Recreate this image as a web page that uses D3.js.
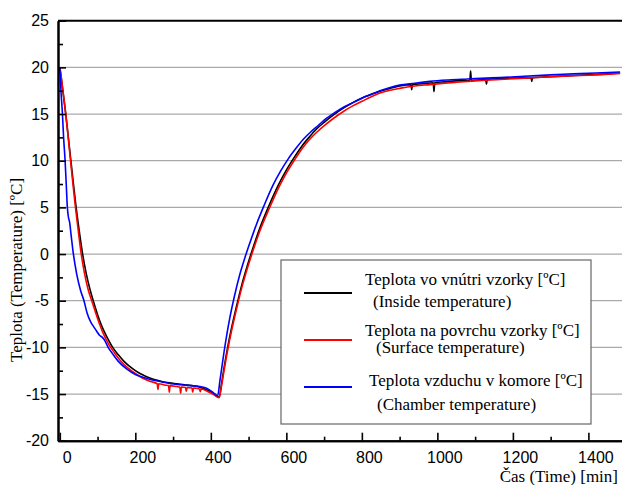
<!DOCTYPE html>
<html>
  <head>
    <meta charset="utf-8">
    <title>Teplota vzorky</title>
    <script type="text/javascript" src="https://d3js.org/d3.v7.min.js"></script>
    <style>
      body { margin: 0; background: #fff; }
    </style>
  </head>

  <body>
    <script>

    // inside temperature (black)
    var insideTime = [0, 4, 8, 12, 16, 22, 29, 35, 42, 50, 60, 70, 80, 90, 100, 112, 125, 140, 155, 170, 190, 210, 230, 250, 270, 290, 310, 330, 350, 365, 380, 395, 410, 422,
                      428, 435, 445, 455, 468, 482, 497, 512, 530, 552, 580, 600, 620, 640, 660, 680, 700, 725, 750, 775, 800, 825, 848, 875, 900, 930, 932, 934, 960, 989, 991, 993,
                      1020, 1050, 1086, 1088, 1090, 1128, 1130, 1132, 1166, 1200, 1248, 1250, 1252, 1300, 1350, 1400, 1450, 1484];
    var insideTemp = [20, 18.8, 17.5, 16.2, 14.9, 12.7, 10.1, 7.9, 5.4, 2.9, 0.1, -2.1, -3.8, -5.2, -6.5, -7.8, -8.9, -10.0, -10.8, -11.5, -12.2, -12.75, -13.15, -13.45, -13.65, -13.8, -13.9, -14.0, -14.1, -14.2, -14.4, -14.65, -15.0, -15.35,
                      -14.0, -12.2, -9.9, -7.9, -5.6, -3.3, -1.2, 0.7, 2.8, 5.0, 7.5, 9.0, 10.3, 11.5, 12.5, 13.4, 14.1, 14.9, 15.6, 16.2, 16.7, 17.1, 17.45, 17.75, 18.0, 18.15, 17.6, 18.15, 18.25, 18.35, 17.4, 18.35,
                      18.45, 18.55, 18.6, 19.6, 18.6, 18.7, 18.2, 18.7, 18.8, 18.85, 18.9, 18.5, 18.9, 19.0, 19.1, 19.2, 19.3, 19.4];

    // surface temperature (red)
    var surfaceTime = [0, 4, 8, 12, 16, 22, 28, 34, 40, 48, 56, 65, 75, 87, 100, 115, 130, 145, 160, 180, 200, 220, 240, 258, 260, 262, 280, 288, 290, 292, 310, 318, 320, 322, 333, 335, 337, 350, 352, 354, 370, 372, 374, 390, 405, 422,
                       428, 435, 445, 455, 468, 482, 497, 512, 530, 555, 582, 602, 622, 642, 662, 682, 702, 727, 752, 777, 802, 825, 848, 875, 900, 940, 980, 1020, 1050, 1100, 1166, 1230, 1300, 1360, 1420, 1484];
    var surfaceTemp = [20, 18.9, 17.6, 16.3, 14.9, 12.6, 10.2, 7.8, 5.5, 2.8, 0.2, -2.0, -3.8, -5.3, -6.9, -8.5, -9.7, -10.6, -11.4, -12.2, -12.8, -13.3, -13.65, -13.9, -14.5, -13.9, -14.05, -14.1, -14.8, -14.1, -14.2, -14.25, -14.9, -14.25, -14.3, -14.7, -14.3, -14.35, -14.8, -14.35, -14.45, -14.75, -14.45, -14.7, -15.0, -15.4,
                       -14.2, -12.5, -10.2, -8.2, -5.9, -3.6, -1.5, 0.4, 2.5, 4.9, 7.3, 8.8, 10.1, 11.3, 12.3, 13.1, 13.8, 14.6, 15.3, 15.9, 16.4, 16.85, 17.25, 17.55, 17.75, 18.0, 18.15, 18.3, 18.4, 18.55, 18.7, 18.85, 19.0, 19.1, 19.2, 19.35];

    // chamber air temperature (blue)
    var chamberTime = [0, 3, 7, 10, 14, 17, 20, 23, 26, 30, 36, 45, 55, 64, 72, 82, 90, 98, 105, 112, 118, 128, 140, 155, 177, 200, 220, 245, 270, 295, 320, 345, 370, 390, 405, 418,
                       424, 431, 440, 450, 462, 476, 491, 506, 522, 540, 565, 585, 605, 625, 645, 665, 685, 705, 730, 755, 780, 805, 830, 848, 875, 900, 940, 980, 1030, 1080, 1130, 1166, 1230, 1300, 1360, 1420, 1484];
    var chamberTemp = [20, 17.5, 15, 12.5, 10, 7.5, 5, 3.9, 3.4, 2.0, 0, -2.2, -3.9, -5, -6.3, -7.3, -7.8, -8.3, -8.7, -8.9, -9.2, -10, -10.7, -11.5, -12.3, -12.9, -13.2, -13.5, -13.7, -13.9, -14.0, -14.1, -14.2, -14.4, -14.8, -15.2,
                       -13.6, -11.6, -9.2, -6.9, -4.6, -2.3, -0.3, 1.5, 3.3, 5.1, 7.4, 8.9, 10.2, 11.3, 12.3, 13.1, 13.8, 14.5, 15.2, 15.8, 16.3, 16.8, 17.2, 17.5, 17.85, 18.1, 18.3, 18.5, 18.65, 18.75, 18.85, 18.9, 19.05, 19.2, 19.3, 19.4, 19.5];

    var xTicks = [0, 200, 400, 600, 800, 1000, 1200, 1400];
    var xMinor = [100, 300, 500, 700, 900, 1100, 1300];
    var yTicks = [-20, -15, -10, -5, 0, 5, 10, 15, 20, 25];
    var yMinor = [-17.5, -12.5, -7.5, -2.5, 2.5, 7.5, 12.5, 17.5, 22.5];
    var gridValues = [-15, -10, -5, 0, 5, 10, 15, 20];

    var legendMain = ["Teplota vo vnútri vzorky [ºC]", "Teplota na povrchu vzorky [ºC]", "Teplota vzduchu v komore [ºC]"];
    var legendSub = ["(Inside temperature)", "(Surface temperature)", "(Chamber temperature)"];
    var colors = ["#000000", "#ff0000", "#0000ff"];

    var width = 622, height = 485;
    var plotLeft = 58, plotRight = 622, plotTop = 20.7, plotBottom = 440.7;

    var x = d3.scaleLinear().domain([-4.8, 1489]).range([plotLeft, plotRight]);
    var y = d3.scaleLinear().domain([-20, 25]).range([plotBottom, plotTop]);

    var svg = d3.select('body')
                .append('svg')
                .attr("width", width)
                .attr("height", height);

    // horizontal grid
    svg.append("g")
       .selectAll("line")
       .data(gridValues)
       .enter()
         .append("line")
         .attr("x1", plotLeft).attr("x2", plotRight)
         .attr("y1", function(d) { return y(d); })
         .attr("y2", function(d) { return y(d); })
         .attr("stroke", "#aaaaaa")
         .attr("stroke-width", 1.3);

    // top border
    svg.append("line")
       .attr("x1", plotLeft).attr("x2", plotRight)
       .attr("y1", plotTop).attr("y2", plotTop)
       .attr("stroke", "#000").attr("stroke-width", 2);

    // series
    var series = [
      { t: insideTime, v: insideTemp },
      { t: surfaceTime, v: surfaceTemp },
      { t: chamberTime, v: chamberTemp }
    ];

    var line = d3.line()
                 .x(function(d) { return x(d[0]); })
                 .y(function(d) { return y(d[1]); })
                 .curve(d3.curveMonotoneX);

    series.forEach(function(s, i) {
      var pts = s.t.map(function(t, j) { return [t, s.v[j]]; });
      svg.append("path")
         .datum(pts)
         .attr("d", line)
         .attr("fill", "none")
         .attr("stroke", colors[i])
         .attr("stroke-width", 1.6)
         .attr("stroke-linejoin", "round");
    });

    // axes  (plain hyphen for negatives, as in the original)
    var plain = function(d) { return String(d); };
    var yAxis = d3.axisLeft(y).tickValues(yTicks).tickFormat(plain).tickSizeInner(-8).tickSizeOuter(0).tickPadding(9);
    var yAxisMinor = d3.axisLeft(y).tickValues(yMinor).tickSizeInner(-5).tickSizeOuter(0).tickFormat("");
    var xAxis = d3.axisBottom(x).tickValues(xTicks).tickFormat(plain).tickSizeInner(-8).tickSizeOuter(0).tickPadding(11);
    var xAxisMinor = d3.axisBottom(x).tickValues(xMinor).tickSizeInner(-4).tickSizeOuter(0).tickFormat("");

    svg.append("g").attr("transform", "translate(" + plotLeft + ",0)").call(yAxis);
    svg.append("g").attr("transform", "translate(" + plotLeft + ",0)").call(yAxisMinor);
    var gx = svg.append("g").attr("transform", "translate(0," + plotBottom + ")").call(xAxis);
    svg.append("g").attr("transform", "translate(0," + plotBottom + ")").call(xAxisMinor);

    svg.selectAll(".domain").attr("stroke", "#000").attr("stroke-width", 2);
    svg.selectAll(".tick line").attr("stroke", "#000").attr("stroke-width", 1.6);
    svg.selectAll(".tick text")
       .attr("font-family", "'Liberation Sans', Arial, sans-serif")
       .attr("font-size", 16)
       .attr("fill", "#000");
    gx.selectAll(".tick text").attr("x", 7);

    // axis titles
    svg.append("text")
       .attr("transform", "translate(22,270) rotate(-90)")
       .attr("text-anchor", "middle")
       .attr("font-family", "'Liberation Serif', 'Times New Roman', serif")
       .attr("font-size", 17)
       .text("Teplota (Temperature) [ºC]");

    svg.append("text")
       .attr("x", 618).attr("y", 482)
       .attr("text-anchor", "end")
       .attr("font-family", "'Liberation Serif', 'Times New Roman', serif")
       .attr("font-size", 17)
       .text("Čas (Time) [min]");

    // legend
    var legend = svg.append("g");
    legend.append("rect")
          .attr("x", 281).attr("y", 260)
          .attr("width", 310).attr("height", 164)
          .attr("fill", "#fff")
          .attr("stroke", "#666")
          .attr("stroke-width", 1.2);

    var lineY = [293, 340, 387];
    var mainX = [365, 365, 369], mainY = [285, 336, 386];
    var subX = [373, 376, 377], subY = [306.5, 353, 410];

    legendMain.forEach(function(label, i) {
      legend.append("line")
            .attr("x1", 304).attr("x2", 352)
            .attr("y1", lineY[i]).attr("y2", lineY[i])
            .attr("stroke", colors[i]).attr("stroke-width", 2);
      legend.append("text")
            .attr("x", mainX[i]).attr("y", mainY[i])
            .attr("font-family", "'Liberation Serif', 'Times New Roman', serif")
            .attr("font-size", 17)
            .text(label);
      legend.append("text")
            .attr("x", subX[i]).attr("y", subY[i])
            .attr("font-family", "'Liberation Serif', 'Times New Roman', serif")
            .attr("font-size", 17)
            .text(legendSub[i]);
    });

    </script>
  </body>
</html>
